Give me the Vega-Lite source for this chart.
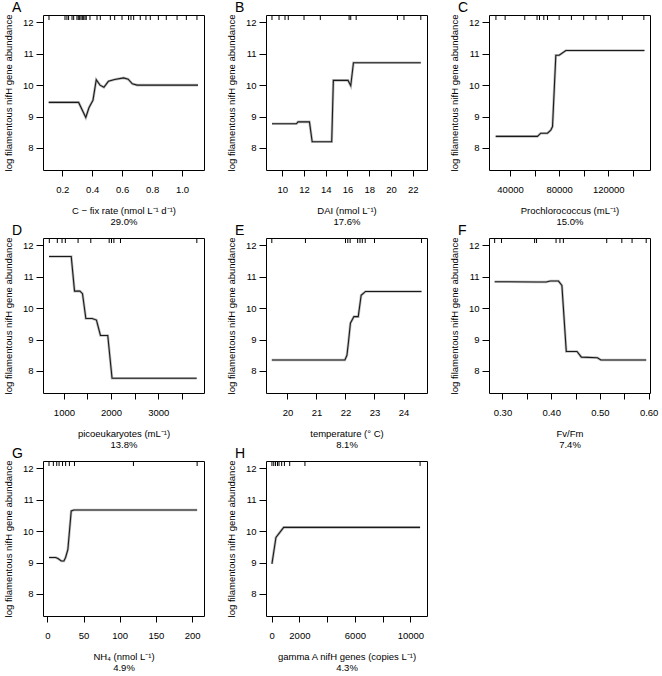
{
  "$schema": "https://vega.github.io/schema/vega-lite/v6.json",
  "background": "white",
  "padding": {"left": 2, "top": 0, "right": 0, "bottom": 0},
  "bounds": "flush",
  "columns": 3,
  "spacing": {"row": 68, "column": 62},
  "data": {"values": [
    {"p":"A","k":"l","x":0.109,"y":9.45},{"p":"A","k":"l","x":0.309,"y":9.45},{"p":"A","k":"l","x":0.357,"y":8.97},{"p":"A","k":"l","x":0.378,"y":9.28},{"p":"A","k":"l","x":0.405,"y":9.52},{"p":"A","k":"l","x":0.427,"y":10.17},{"p":"A","k":"l","x":0.452,"y":10.0},{"p":"A","k":"l","x":0.478,"y":9.93},{"p":"A","k":"l","x":0.508,"y":10.12},{"p":"A","k":"l","x":0.55,"y":10.18},{"p":"A","k":"l","x":0.61,"y":10.23},{"p":"A","k":"l","x":0.64,"y":10.19},{"p":"A","k":"l","x":0.668,"y":10.04},{"p":"A","k":"l","x":0.7,"y":10.0},{"p":"A","k":"l","x":1.107,"y":10.0},
    {"p":"B","k":"l","x":9.05,"y":8.77},{"p":"B","k":"l","x":11.3,"y":8.77},{"p":"B","k":"l","x":11.45,"y":8.83},{"p":"B","k":"l","x":12.5,"y":8.83},{"p":"B","k":"l","x":12.75,"y":8.2},{"p":"B","k":"l","x":14.55,"y":8.2},{"p":"B","k":"l","x":14.7,"y":10.15},{"p":"B","k":"l","x":16.05,"y":10.15},{"p":"B","k":"l","x":16.3,"y":9.98},{"p":"B","k":"l","x":16.55,"y":10.71},{"p":"B","k":"l","x":22.75,"y":10.71},
    {"p":"C","k":"l","x":28300,"y":8.37},{"p":"C","k":"l","x":62300,"y":8.37},{"p":"C","k":"l","x":65000,"y":8.47},{"p":"C","k":"l","x":70500,"y":8.47},{"p":"C","k":"l","x":73200,"y":8.57},{"p":"C","k":"l","x":74600,"y":8.68},{"p":"C","k":"l","x":77300,"y":10.95},{"p":"C","k":"l","x":80000,"y":10.95},{"p":"C","k":"l","x":85500,"y":11.1},{"p":"C","k":"l","x":149500,"y":11.1},
    {"p":"D","k":"l","x":683,"y":11.64},{"p":"D","k":"l","x":1155,"y":11.64},{"p":"D","k":"l","x":1225,"y":10.54},{"p":"D","k":"l","x":1338,"y":10.54},{"p":"D","k":"l","x":1394,"y":10.46},{"p":"D","k":"l","x":1465,"y":9.67},{"p":"D","k":"l","x":1600,"y":9.67},{"p":"D","k":"l","x":1690,"y":9.62},{"p":"D","k":"l","x":1775,"y":9.13},{"p":"D","k":"l","x":1930,"y":9.13},{"p":"D","k":"l","x":2021,"y":7.77},{"p":"D","k":"l","x":3817,"y":7.77},
    {"p":"E","k":"l","x":19.46,"y":8.35},{"p":"E","k":"l","x":21.98,"y":8.35},{"p":"E","k":"l","x":22.05,"y":8.5},{"p":"E","k":"l","x":22.1,"y":8.9},{"p":"E","k":"l","x":22.17,"y":9.52},{"p":"E","k":"l","x":22.29,"y":9.73},{"p":"E","k":"l","x":22.44,"y":9.73},{"p":"E","k":"l","x":22.54,"y":10.41},{"p":"E","k":"l","x":22.69,"y":10.53},{"p":"E","k":"l","x":24.62,"y":10.53},
    {"p":"F","k":"l","x":0.284,"y":10.84},{"p":"F","k":"l","x":0.37,"y":10.83},{"p":"F","k":"l","x":0.39,"y":10.83},{"p":"F","k":"l","x":0.398,"y":10.86},{"p":"F","k":"l","x":0.415,"y":10.86},{"p":"F","k":"l","x":0.422,"y":10.72},{"p":"F","k":"l","x":0.431,"y":8.62},{"p":"F","k":"l","x":0.453,"y":8.62},{"p":"F","k":"l","x":0.462,"y":8.44},{"p":"F","k":"l","x":0.495,"y":8.42},{"p":"F","k":"l","x":0.502,"y":8.35},{"p":"F","k":"l","x":0.595,"y":8.35},
    {"p":"G","k":"l","x":2.3,"y":9.16},{"p":"G","k":"l","x":11.5,"y":9.16},{"p":"G","k":"l","x":14.7,"y":9.13},{"p":"G","k":"l","x":19.3,"y":9.05},{"p":"G","k":"l","x":22.9,"y":9.05},{"p":"G","k":"l","x":25.2,"y":9.16},{"p":"G","k":"l","x":28.4,"y":9.42},{"p":"G","k":"l","x":33.0,"y":10.64},{"p":"G","k":"l","x":36.7,"y":10.67},{"p":"G","k":"l","x":207,"y":10.67},
    {"p":"H","k":"l","x":20,"y":8.96},{"p":"H","k":"l","x":310,"y":9.8},{"p":"H","k":"l","x":866,"y":10.12},{"p":"H","k":"l","x":10700,"y":10.12},
    {"p":"A","k":"r","x":0.111},{"p":"A","k":"r","x":0.218},{"p":"A","k":"r","x":0.231},{"p":"A","k":"r","x":0.242},{"p":"A","k":"r","x":0.265},{"p":"A","k":"r","x":0.276},{"p":"A","k":"r","x":0.298},{"p":"A","k":"r","x":0.307},{"p":"A","k":"r","x":0.316},{"p":"A","k":"r","x":0.325},{"p":"A","k":"r","x":0.334},{"p":"A","k":"r","x":0.343},{"p":"A","k":"r","x":0.352},{"p":"A","k":"r","x":0.36},{"p":"A","k":"r","x":0.385},{"p":"A","k":"r","x":0.432},{"p":"A","k":"r","x":0.454},{"p":"A","k":"r","x":0.521},{"p":"A","k":"r","x":0.55},{"p":"A","k":"r","x":0.599},{"p":"A","k":"r","x":0.643},{"p":"A","k":"r","x":0.659},{"p":"A","k":"r","x":0.677},{"p":"A","k":"r","x":0.721},{"p":"A","k":"r","x":0.759},{"p":"A","k":"r","x":0.788},{"p":"A","k":"r","x":0.842},{"p":"A","k":"r","x":0.895},{"p":"A","k":"r","x":0.967},{"p":"A","k":"r","x":1.029},{"p":"A","k":"r","x":1.1},
    {"p":"B","k":"r","x":9.05},{"p":"B","k":"r","x":9.7},{"p":"B","k":"r","x":10.25},{"p":"B","k":"r","x":10.55},{"p":"B","k":"r","x":12.0},{"p":"B","k":"r","x":13.5},{"p":"B","k":"r","x":16.15},{"p":"B","k":"r","x":16.3},{"p":"B","k":"r","x":16.8},{"p":"B","k":"r","x":20.6},{"p":"B","k":"r","x":21.2},{"p":"B","k":"r","x":22.75},
    {"p":"C","k":"r","x":28500},{"p":"C","k":"r","x":36000},{"p":"C","k":"r","x":52000},{"p":"C","k":"r","x":62000},{"p":"C","k":"r","x":64000},{"p":"C","k":"r","x":67500},{"p":"C","k":"r","x":70500},{"p":"C","k":"r","x":80000},{"p":"C","k":"r","x":90000},{"p":"C","k":"r","x":100000},{"p":"C","k":"r","x":110000},{"p":"C","k":"r","x":120000},{"p":"C","k":"r","x":131500},{"p":"C","k":"r","x":149000},
    {"p":"D","k":"r","x":690},{"p":"D","k":"r","x":860},{"p":"D","k":"r","x":960},{"p":"D","k":"r","x":1030},{"p":"D","k":"r","x":1300},{"p":"D","k":"r","x":1570},{"p":"D","k":"r","x":1960},{"p":"D","k":"r","x":2010},{"p":"D","k":"r","x":2060},{"p":"D","k":"r","x":2200},{"p":"D","k":"r","x":3820},
    {"p":"E","k":"r","x":19.46},{"p":"E","k":"r","x":20.62},{"p":"E","k":"r","x":22.0},{"p":"E","k":"r","x":22.08},{"p":"E","k":"r","x":22.16},{"p":"E","k":"r","x":22.42},{"p":"E","k":"r","x":22.5},{"p":"E","k":"r","x":22.58},{"p":"E","k":"r","x":22.68},{"p":"E","k":"r","x":23.0},{"p":"E","k":"r","x":24.62},
    {"p":"F","k":"r","x":0.284},{"p":"F","k":"r","x":0.298},{"p":"F","k":"r","x":0.366},{"p":"F","k":"r","x":0.37},{"p":"F","k":"r","x":0.41},{"p":"F","k":"r","x":0.418},{"p":"F","k":"r","x":0.425},{"p":"F","k":"r","x":0.514},{"p":"F","k":"r","x":0.545},{"p":"F","k":"r","x":0.566},{"p":"F","k":"r","x":0.595},
    {"p":"G","k":"r","x":2.3},{"p":"G","k":"r","x":8.3},{"p":"G","k":"r","x":13},{"p":"G","k":"r","x":16.2},{"p":"G","k":"r","x":21},{"p":"G","k":"r","x":25.3},{"p":"G","k":"r","x":30.5},{"p":"G","k":"r","x":37.5},{"p":"G","k":"r","x":119},{"p":"G","k":"r","x":207},
    {"p":"H","k":"r","x":20},{"p":"H","k":"r","x":150},{"p":"H","k":"r","x":280},{"p":"H","k":"r","x":420},{"p":"H","k":"r","x":530},{"p":"H","k":"r","x":720},{"p":"H","k":"r","x":920},{"p":"H","k":"r","x":1300},{"p":"H","k":"r","x":2400},{"p":"H","k":"r","x":10700}
  ]},
  "concat": [
    {"title": "A", "width": 161, "height": 155,
     "transform": [{"filter": "datum.p === 'A'"}],
     "encoding": {
       "x": {"field": "x", "type": "quantitative", "scale": {"domain": [0.071, 1.147], "nice": false, "zero": false},
             "axis": {"title": ["C − fix rate (nmol L⁻¹ d⁻¹)", "29.0%"], "values": [0.2, 0.4, 0.6, 0.8, 1.0], "format": ".1f"}}
     },
     "layer": [
       {"transform": [{"filter": "datum.k === 'l'"}], "mark": {"type": "line", "color": "#bdbdbd", "strokeWidth": 2.6},
        "encoding": {"y": {"field": "y", "type": "quantitative", "scale": {"domain": [7.3, 12.23], "nice": false, "zero": false}, "axis": {"title": "log filamentous nifH gene abundance"}}}},
       {"transform": [{"filter": "datum.k === 'l'"}], "mark": {"type": "line", "color": "#1a1a1a", "strokeWidth": 1.1},
        "encoding": {"y": {"field": "y", "type": "quantitative"}}},
       {"transform": [{"filter": "datum.k === 'r'"}], "mark": {"type": "rule", "color": "black", "strokeWidth": 1},
        "encoding": {"y": {"datum": 12.23, "type": "quantitative"}, "y2": {"datum": 12.07}}}
     ]},
    {"title": "B", "width": 161, "height": 155,
     "transform": [{"filter": "datum.p === 'B'"}],
     "encoding": {
       "x": {"field": "x", "type": "quantitative", "scale": {"domain": [8.5, 23.32], "nice": false, "zero": false},
             "axis": {"title": ["DAI (nmol L⁻¹)", "17.6%"], "values": [10, 12, 14, 16, 18, 20, 22], "format": "d"}}
     },
     "layer": [
       {"transform": [{"filter": "datum.k === 'l'"}], "mark": {"type": "line", "color": "#bdbdbd", "strokeWidth": 2.6},
        "encoding": {"y": {"field": "y", "type": "quantitative", "scale": {"domain": [7.3, 12.23], "nice": false, "zero": false}, "axis": {"title": "log filamentous nifH gene abundance"}}}},
       {"transform": [{"filter": "datum.k === 'l'"}], "mark": {"type": "line", "color": "#1a1a1a", "strokeWidth": 1.1},
        "encoding": {"y": {"field": "y", "type": "quantitative"}}},
       {"transform": [{"filter": "datum.k === 'r'"}], "mark": {"type": "rule", "color": "black", "strokeWidth": 1},
        "encoding": {"y": {"datum": 12.23, "type": "quantitative"}, "y2": {"datum": 12.07}}}
     ]},
    {"title": "C", "width": 161, "height": 155,
     "transform": [{"filter": "datum.p === 'C'"}],
     "encoding": {
       "x": {"field": "x", "type": "quantitative", "scale": {"domain": [22857, 154014], "nice": false, "zero": false},
             "axis": {"title": ["Prochlorococcus (mL⁻¹)", "15.0%"], "values": [40000, 60000, 80000, 100000, 120000, 140000], "labelExpr": "datum.value % 40000 === 0 ? format(datum.value, 'd') : ''"}}
     },
     "layer": [
       {"transform": [{"filter": "datum.k === 'l'"}], "mark": {"type": "line", "color": "#bdbdbd", "strokeWidth": 2.6},
        "encoding": {"y": {"field": "y", "type": "quantitative", "scale": {"domain": [7.3, 12.23], "nice": false, "zero": false}, "axis": {"title": "log filamentous nifH gene abundance"}}}},
       {"transform": [{"filter": "datum.k === 'l'"}], "mark": {"type": "line", "color": "#1a1a1a", "strokeWidth": 1.1},
        "encoding": {"y": {"field": "y", "type": "quantitative"}}},
       {"transform": [{"filter": "datum.k === 'r'"}], "mark": {"type": "rule", "color": "black", "strokeWidth": 1},
        "encoding": {"y": {"datum": 12.23, "type": "quantitative"}, "y2": {"datum": 12.07}}}
     ]},
    {"title": "D", "width": 161, "height": 155,
     "transform": [{"filter": "datum.p === 'D'"}],
     "encoding": {
       "x": {"field": "x", "type": "quantitative", "scale": {"domain": [556, 3972], "nice": false, "zero": false},
             "axis": {"title": ["picoeukaryotes (mL⁻¹)", "13.8%"], "values": [1000, 1500, 2000, 2500, 3000, 3500], "labelExpr": "datum.value % 1000 === 0 ? format(datum.value, 'd') : ''"}}
     },
     "layer": [
       {"transform": [{"filter": "datum.k === 'l'"}], "mark": {"type": "line", "color": "#bdbdbd", "strokeWidth": 2.6},
        "encoding": {"y": {"field": "y", "type": "quantitative", "scale": {"domain": [7.3, 12.23], "nice": false, "zero": false}, "axis": {"title": "log filamentous nifH gene abundance"}}}},
       {"transform": [{"filter": "datum.k === 'l'"}], "mark": {"type": "line", "color": "#1a1a1a", "strokeWidth": 1.1},
        "encoding": {"y": {"field": "y", "type": "quantitative"}}},
       {"transform": [{"filter": "datum.k === 'r'"}], "mark": {"type": "rule", "color": "black", "strokeWidth": 1},
        "encoding": {"y": {"datum": 12.23, "type": "quantitative"}, "y2": {"datum": 12.07}}}
     ]},
    {"title": "E", "width": 161, "height": 155,
     "transform": [{"filter": "datum.p === 'E'"}],
     "encoding": {
       "x": {"field": "x", "type": "quantitative", "scale": {"domain": [19.26, 24.81], "nice": false, "zero": false},
             "axis": {"title": ["temperature (° C)", "8.1%"], "values": [20, 21, 22, 23, 24], "format": "d"}}
     },
     "layer": [
       {"transform": [{"filter": "datum.k === 'l'"}], "mark": {"type": "line", "color": "#bdbdbd", "strokeWidth": 2.6},
        "encoding": {"y": {"field": "y", "type": "quantitative", "scale": {"domain": [7.3, 12.23], "nice": false, "zero": false}, "axis": {"title": "log filamentous nifH gene abundance"}}}},
       {"transform": [{"filter": "datum.k === 'l'"}], "mark": {"type": "line", "color": "#1a1a1a", "strokeWidth": 1.1},
        "encoding": {"y": {"field": "y", "type": "quantitative"}}},
       {"transform": [{"filter": "datum.k === 'r'"}], "mark": {"type": "rule", "color": "black", "strokeWidth": 1},
        "encoding": {"y": {"datum": 12.23, "type": "quantitative"}, "y2": {"datum": 12.07}}}
     ]},
    {"title": "F", "width": 161, "height": 155,
     "transform": [{"filter": "datum.p === 'F'"}],
     "encoding": {
       "x": {"field": "x", "type": "quantitative", "scale": {"domain": [0.2724, 0.6028], "nice": false, "zero": false},
             "axis": {"title": ["Fv/Fm", "7.4%"], "values": [0.3, 0.35, 0.4, 0.45, 0.5, 0.55, 0.6], "labelExpr": "abs(datum.value * 10 - round(datum.value * 10)) < 0.001 ? format(datum.value, '.2f') : ''"}}
     },
     "layer": [
       {"transform": [{"filter": "datum.k === 'l'"}], "mark": {"type": "line", "color": "#bdbdbd", "strokeWidth": 2.6},
        "encoding": {"y": {"field": "y", "type": "quantitative", "scale": {"domain": [7.3, 12.23], "nice": false, "zero": false}, "axis": {"title": "log filamentous nifH gene abundance"}}}},
       {"transform": [{"filter": "datum.k === 'l'"}], "mark": {"type": "line", "color": "#1a1a1a", "strokeWidth": 1.1},
        "encoding": {"y": {"field": "y", "type": "quantitative"}}},
       {"transform": [{"filter": "datum.k === 'r'"}], "mark": {"type": "rule", "color": "black", "strokeWidth": 1},
        "encoding": {"y": {"datum": 12.23, "type": "quantitative"}, "y2": {"datum": 12.07}}}
     ]},
    {"title": "G", "width": 161, "height": 155,
     "transform": [{"filter": "datum.p === 'G'"}],
     "encoding": {
       "x": {"field": "x", "type": "quantitative", "scale": {"domain": [-6, 216.5], "nice": false, "zero": false},
             "axis": {"title": ["NH₄ (nmol L⁻¹)", "4.9%"], "values": [0, 50, 100, 150, 200], "format": "d"}}
     },
     "layer": [
       {"transform": [{"filter": "datum.k === 'l'"}], "mark": {"type": "line", "color": "#bdbdbd", "strokeWidth": 2.6},
        "encoding": {"y": {"field": "y", "type": "quantitative", "scale": {"domain": [7.3, 12.23], "nice": false, "zero": false}, "axis": {"title": "log filamentous nifH gene abundance"}}}},
       {"transform": [{"filter": "datum.k === 'l'"}], "mark": {"type": "line", "color": "#1a1a1a", "strokeWidth": 1.1},
        "encoding": {"y": {"field": "y", "type": "quantitative"}}},
       {"transform": [{"filter": "datum.k === 'r'"}], "mark": {"type": "rule", "color": "black", "strokeWidth": 1},
        "encoding": {"y": {"datum": 12.23, "type": "quantitative"}, "y2": {"datum": 12.07}}}
     ]},
    {"title": "H", "width": 161, "height": 155,
     "transform": [{"filter": "datum.p === 'H'"}],
     "encoding": {
       "x": {"field": "x", "type": "quantitative", "scale": {"domain": [-408, 11199], "nice": false, "zero": false},
             "axis": {"title": ["gamma A nifH genes (copies L⁻¹)", "4.3%"], "values": [0, 2000, 4000, 6000, 8000, 10000], "labelExpr": "(datum.value === 4000 || datum.value === 8000) ? '' : format(datum.value, 'd')"}}
     },
     "layer": [
       {"transform": [{"filter": "datum.k === 'l'"}], "mark": {"type": "line", "color": "#bdbdbd", "strokeWidth": 2.6},
        "encoding": {"y": {"field": "y", "type": "quantitative", "scale": {"domain": [7.3, 12.23], "nice": false, "zero": false}, "axis": {"title": "log filamentous nifH gene abundance"}}}},
       {"transform": [{"filter": "datum.k === 'l'"}], "mark": {"type": "line", "color": "#1a1a1a", "strokeWidth": 1.1},
        "encoding": {"y": {"field": "y", "type": "quantitative"}}},
       {"transform": [{"filter": "datum.k === 'r'"}], "mark": {"type": "rule", "color": "black", "strokeWidth": 1},
        "encoding": {"y": {"datum": 12.23, "type": "quantitative"}, "y2": {"datum": 12.07}}}
     ]}
  ],
  "config": {
    "font": "Liberation Sans",
    "view": {"stroke": "black", "strokeWidth": 1},
    "axis": {"domain": false, "grid": false, "tickColor": "black", "tickSize": 6, "labelColor": "black", "labelFontSize": 9.5, "titleFontSize": 9.5, "titleFontWeight": "normal", "titleColor": "black", "labelOverlap": false, "labelFlush": false},
    "axisX": {"labelPadding": 8, "titlePadding": 12, "titleLineHeight": 11},
    "axisY": {"labelPadding": 3, "titlePadding": 9, "tickSize": 7, "values": [8, 9, 10, 11, 12]},
    "title": {"anchor": "start", "frame": "group", "fontSize": 14, "fontWeight": "normal", "dx": -31, "offset": -1, "baseline": "alphabetic", "color": "black"}
  }
}
